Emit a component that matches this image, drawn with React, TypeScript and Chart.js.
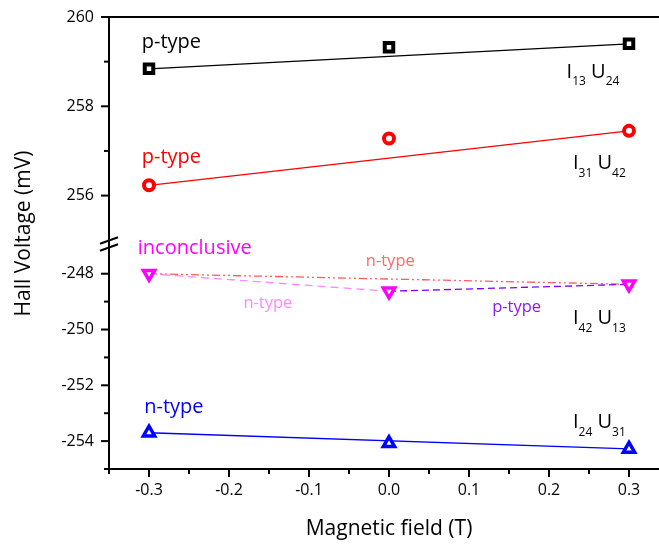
import { useEffect, useRef } from "react";
import { Chart, registerables } from "chart.js";

Chart.register(...registerables);

// Magnetic field (T)
const fieldT = [-0.3, 0.0, 0.3];

// Hall voltage (mV) for each current / voltage contact configuration
const hallI13U24 = [258.84, 259.32, 259.4];
const hallI31U42 = [256.23, 257.28, 257.45];
const hallI42U13 = [-248.0, -248.63, -248.38];
const hallI24U31 = [-253.7, -254.08, -254.28];

// Axis ticks
const xTickValues = [-0.3, -0.2, -0.1, 0, 0.1, 0.2, 0.3];
const xMinorTickValues = [-0.35, -0.25, -0.15, -0.05, 0.05, 0.15, 0.25, 0.35];
const upperTickValues = [256, 258, 260];
const upperMinorTickValues = [257, 259];
const lowerTickValues = [-254, -252, -250, -248];
const lowerMinorTickValues = [-255, -253, -251, -249];

const FONT = "'Open Sans', sans-serif";

type Pt = { x: number; y: number };
const series = (ys: number[]): Pt[] => fieldT.map((x, i) => ({ x, y: ys[i] }));
const segment = (ys: number[], a: number, b: number): Pt[] => [
  { x: fieldT[a], y: ys[a] },
  { x: fieldT[b], y: ys[b] },
];
const last = fieldT.length - 1;

// Text notes placed in data coordinates
const notes = [
  { text: "p-type", x: -0.309, y: 259.3, axis: "yUp", color: "#000000", size: 20 },
  { text: "p-type", x: -0.309, y: 256.74, axis: "yUp", color: "#ff0000", size: 20 },
  { text: "inconclusive", x: -0.314, y: -247.31, axis: "yLow", color: "#ff00ff", size: 20 },
  { text: "n-type", x: -0.306, y: -252.98, axis: "yLow", color: "#0000ff", size: 20 },
  { text: "n-type", x: -0.029, y: -247.73, axis: "yLow", color: "#ff6a6a", size: 16.5 },
  { text: "n-type", x: -0.182, y: -249.22, axis: "yLow", color: "#ff88ff", size: 16.5 },
  { text: "p-type", x: 0.129, y: -249.38, axis: "yLow", color: "#8a1cf0", size: 16.5 },
];

const contactLabels = [
  { i: "13", u: "24", x: 0.222, y: 258.64, axis: "yUp" },
  { i: "31", u: "42", x: 0.23, y: 256.59, axis: "yUp" },
  { i: "42", u: "13", x: 0.23, y: -249.82, axis: "yLow" },
  { i: "24", u: "31", x: 0.23, y: -253.54, axis: "yLow" },
];

const decorPlugin = {
  id: "decor",
  afterDraw(chart: any) {
    const { ctx, chartArea: a, scales } = chart;
    const sx = scales.x;
    const yu = scales.yUp;
    const yl = scales.yLow;
    ctx.save();
    ctx.strokeStyle = "#000";
    ctx.lineWidth = 2;
    ctx.lineCap = "butt";
    const seg = (x1: number, y1: number, x2: number, y2: number) => {
      ctx.beginPath();
      ctx.moveTo(x1, y1);
      ctx.lineTo(x2, y2);
      ctx.stroke();
    };
    // top frame
    seg(a.left - 1, a.top, a.right, a.top);
    // x ticks
    xTickValues.forEach((v) => {
      const p = sx.getPixelForValue(v);
      seg(p, a.bottom, p, a.bottom + 8);
    });
    xMinorTickValues.forEach((v) => {
      const p = sx.getPixelForValue(v);
      seg(p, a.bottom, p, a.bottom + 5);
    });
    // y ticks
    upperTickValues.forEach((v) => {
      const p = yu.getPixelForValue(v);
      seg(a.left - 8, p, a.left, p);
    });
    upperMinorTickValues.forEach((v) => {
      const p = yu.getPixelForValue(v);
      seg(a.left - 5, p, a.left, p);
    });
    lowerTickValues.forEach((v) => {
      const p = yl.getPixelForValue(v);
      seg(a.left - 8, p, a.left, p);
    });
    lowerMinorTickValues.forEach((v) => {
      const p = yl.getPixelForValue(v);
      seg(a.left - 5, p, a.left, p);
    });
    // axis break marks
    const by = Math.min(yu.bottom, yl.bottom, Math.max(yu.top, yl.top));
    seg(a.left - 9, by + 3.5, a.left + 9, by - 3);
    seg(a.left - 9, by + 10.5, a.left + 9, by + 4);

    // y axis title
    ctx.fillStyle = "#000";
    ctx.font = `21px ${FONT}`;
    ctx.textAlign = "center";
    ctx.textBaseline = "middle";
    ctx.save();
    ctx.translate(24, 233.5);
    ctx.rotate(-Math.PI / 2);
    ctx.fillText("Hall Voltage (mV)", 0, 0);
    ctx.restore();

    // notes
    ctx.textAlign = "left";
    ctx.textBaseline = "alphabetic";
    notes.forEach((n) => {
      ctx.fillStyle = n.color;
      ctx.font = `${n.size}px ${FONT}`;
      ctx.fillText(n.text, sx.getPixelForValue(n.x), scales[n.axis].getPixelForValue(n.y));
    });

    // contact configuration labels with subscripts
    ctx.fillStyle = "#000";
    contactLabels.forEach((c) => {
      let px = sx.getPixelForValue(c.x);
      const py = scales[c.axis].getPixelForValue(c.y);
      const big = `20px ${FONT}`;
      const small = `12px ${FONT}`;
      const parts: [string, string, number][] = [
        ["I", big, 0],
        [c.i, small, 7.5],
        [" U", big, 0],
        [c.u, small, 7.5],
      ];
      parts.forEach(([t, f, dy]) => {
        ctx.font = f;
        ctx.fillText(t, px, py + dy);
        px += ctx.measureText(t).width;
      });
    });
    ctx.restore();
  },
};

export default function App() {
  const canvasRef = useRef<HTMLCanvasElement | null>(null);

  useEffect(() => {
    document.body.style.margin = "0";
    const canvas = canvasRef.current;
    if (!canvas) return;

    const markers = (ys: number[], style: string, color: string, radius: number, bw: number, rot = 0) => ({
      data: series(ys),
      showLine: false,
      pointStyle: style,
      pointRadius: radius,
      pointHoverRadius: radius,
      pointBorderWidth: bw,
      pointBorderColor: color,
      pointBackgroundColor: "#ffffff",
      pointRotation: rot,
      borderColor: color,
    });
    const link = (data: Pt[], color: string, dash: number[] = [], width = 1.3) => ({
      data,
      borderColor: color,
      borderWidth: width,
      borderDash: dash,
      pointRadius: 0,
      pointHoverRadius: 0,
      fill: false,
    });

    const datasets: any[] = [
      { ...markers(hallI13U24, "rect", "#000000", 6, 4), yAxisID: "yUp" },
      { ...markers(hallI31U42, "circle", "#ff0000", 5, 4), yAxisID: "yUp" },
      { ...markers(hallI42U13, "triangle", "#ff00ff", 6.5, 3.5, 180), yAxisID: "yLow" },
      { ...markers(hallI24U31, "triangle", "#0000ff", 6.5, 3.5), yAxisID: "yLow" },
      { ...link(segment(hallI13U24, 0, last), "#000000"), yAxisID: "yUp" },
      { ...link(segment(hallI31U42, 0, last), "#ff0000"), yAxisID: "yUp" },
      { ...link(segment(hallI42U13, 0, 1), "#ff88ff", [8, 5]), yAxisID: "yLow" },
      { ...link(segment(hallI42U13, 1, last), "#8000ff", [7, 4]), yAxisID: "yLow" },
      { ...link(segment(hallI42U13, 0, last), "#ff5a5a", [8, 3, 2, 3, 2, 3]), yAxisID: "yLow" },
      { ...link(segment(hallI24U31, 0, last), "#0000ff"), yAxisID: "yLow" },
    ];

    const tickFont = { family: FONT, size: 16 };
    const hiddenGrid = {
      display: true,
      drawOnChartArea: false,
      drawTicks: true,
      tickLength: 8,
      tickColor: "rgba(0,0,0,0)",
    };
    const border = { display: true, color: "#000", width: 2 };

    const chart = new Chart(canvas, {
      type: "line",
      data: { datasets },
      plugins: [decorPlugin],
      options: {
        animation: false,
        responsive: true,
        maintainAspectRatio: false,
        parsing: false as any,
        layout: { padding: { top: 17, right: 11, left: 0, bottom: 0 } },
        plugins: { legend: { display: false }, tooltip: { enabled: false } },
        scales: {
          x: {
            type: "linear",
            min: -0.35,
            max: 0.35,
            afterBuildTicks: (s: any) => {
              s.ticks = xTickValues.map((v) => ({ value: v }));
            },
            afterFit: (s: any) => {
              s.height = 77;
            },
            grid: hiddenGrid,
            border,
            ticks: {
              font: tickFont,
              color: "#000",
              padding: 4,
              maxRotation: 0,
              autoSkip: false,
              callback: (v: any) => Number(v).toFixed(1),
            },
            title: {
              display: true,
              text: "Magnetic field (T)",
              color: "#000",
              font: { family: FONT, size: 21 },
              padding: { top: 0, bottom: 4 },
            },
          },
          yLow: {
            type: "linear",
            position: "left",
            stack: "hall",
            stackWeight: 228,
            min: -255,
            max: -246.8,
            afterBuildTicks: (s: any) => {
              s.ticks = lowerTickValues.map((v) => ({ value: v }));
            },
            afterFit: (s: any) => {
              s.width = 109;
            },
            grid: hiddenGrid,
            border,
            ticks: { font: tickFont, color: "#000", padding: 7, autoSkip: false },
          },
          yUp: {
            type: "linear",
            position: "left",
            stack: "hall",
            stackWeight: 222.5,
            min: 255,
            max: 260,
            afterBuildTicks: (s: any) => {
              s.ticks = upperTickValues.map((v) => ({ value: v }));
            },
            afterFit: (s: any) => {
              s.width = 109;
            },
            grid: hiddenGrid,
            border,
            ticks: { font: tickFont, color: "#000", padding: 7, autoSkip: false },
          },
        },
      } as any,
    });

    return () => chart.destroy();
  }, []);

  return (
    <div style={{ width: 659, height: 546, overflow: "hidden", position: "relative", background: "#fff" }}>
      <div style={{ width: 680, height: 546, position: "relative" }}>
        <canvas ref={canvasRef} />
      </div>
    </div>
  );
}
